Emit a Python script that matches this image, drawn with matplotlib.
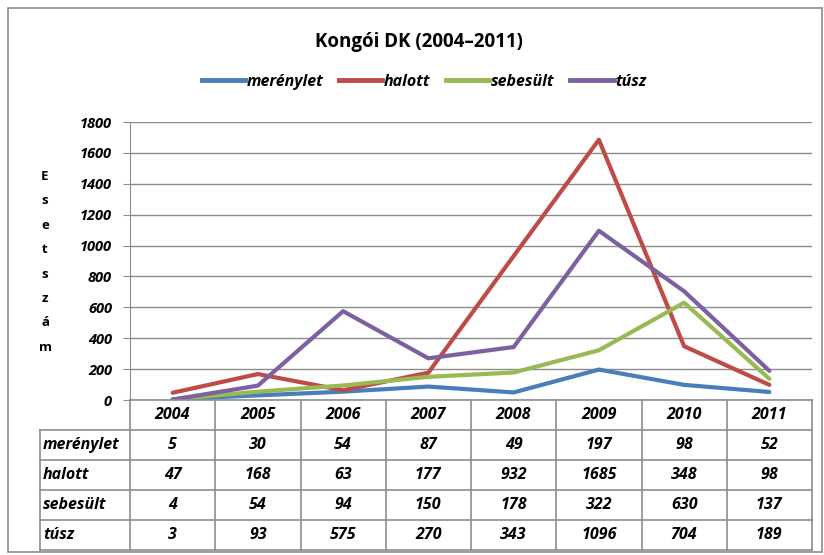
import numpy as np
import matplotlib.pyplot as plt
from matplotlib.lines import Line2D
from matplotlib.patches import Rectangle

years = ['2004', '2005', '2006', '2007', '2008', '2009', '2010', '2011']
merenylet = [5, 30, 54, 87, 49, 197, 98, 52]
halott = [47, 168, 63, 177, 932, 1685, 348, 98]
sebesult = [4, 54, 94, 150, 178, 322, 630, 137]
tusz = [3, 93, 575, 270, 343, 1096, 704, 189]

names = ['merénylet', 'halott', 'sebesült', 'túsz']
series = [merenylet, halott, sebesult, tusz]
colors = ['#4a7ebb', '#be4b48', '#98b954', '#7d60a0']

W, H = 824, 555
fig = plt.figure(figsize=(W / 100, H / 100), dpi=100)
plt.rcParams['font.family'] = ['Open Sans', 'DejaVu Sans']

def fx(px):
    return px / W

def fy(py):
    return 1 - py / H

# outer frame
fig.add_artist(Rectangle((fx(8), fy(552)), fx(814) - fx(0), fy(8) - fy(552),
                         transform=fig.transFigure, fill=False,
                         edgecolor='#8c8c8c', lw=1.2))

# plot area
left, right, top, bottom = 130, 812, 122, 400
ax = fig.add_axes([fx(left), fy(bottom), fx(right - left), fy(top) - fy(bottom)])
x = np.arange(len(years))
for s, c, n in zip(series, colors, names):
    ax.plot(x, s, color=c, lw=3, label=n, solid_capstyle='round')

ax.set_xlim(-0.5, len(years) - 0.5)
ax.set_ylim(0, 1800)
ax.set_yticks(np.arange(0, 1801, 200))
ax.yaxis.grid(True, color='#8c8c8c', lw=1)
ax.set_axisbelow(True)
ax.set_xticks([])
for sp in ['top', 'right', 'bottom']:
    ax.spines[sp].set_visible(False)
ax.spines['left'].set_color('#8c8c8c')
ax.tick_params(axis='y', length=5, color='#8c8c8c', pad=8)
for lab in ax.get_yticklabels():
    lab.set_fontweight('bold')
    lab.set_fontstyle('italic')
    lab.set_fontsize(10.5)

# vertical y label, one letter per line
ylab = 'Esetszám'
for i, ch in enumerate(ylab):
    fig.text(fx(45), fy(176 + i * 24.5), ch, ha='center', va='center',
             fontsize=9.5, fontweight='bold')

# title
fig.text(fx(419), fy(42), 'Kongói DK (2004–2011)', ha='center', va='center',
         fontsize=13.5, fontweight='bold')

# legend
handles = [Line2D([], [], color=c, lw=3.5) for c in colors]
fig.legend(handles, names, loc='center', bbox_to_anchor=(fx(424), fy(82)),
           ncol=4, frameon=False, handlelength=2.7, handletextpad=0.1,
           columnspacing=1.0,
           prop={'weight': 'bold', 'style': 'italic', 'size': 11.5})

# data table below plot
colw = (right - left) / len(years)
row_h = 30
lab_left = 40
tc = '#8c8c8c'

def hline(y, x0, x1):
    fig.add_artist(Line2D([fx(x0), fx(x1)], [fy(y), fy(y)], color=tc, lw=1.2,
                          transform=fig.transFigure))

def vline(xp, y0, y1):
    fig.add_artist(Line2D([fx(xp), fx(xp)], [fy(y0), fy(y1)], color=tc, lw=1.2,
                          transform=fig.transFigure))

ybot = bottom + row_h * 5
hline(bottom, left, right)
for r in range(1, 6):
    hline(bottom + r * row_h, lab_left, right)
vline(lab_left, bottom + row_h, ybot)
for c in range(len(years) + 1):
    vline(left + c * colw, bottom, ybot)

tprops = dict(fontsize=11.5, fontweight='bold', fontstyle='italic', va='center')
for c, yr in enumerate(years):
    fig.text(fx(left + (c + 0.5) * colw), fy(bottom + row_h / 2), yr,
             ha='center', **tprops)
for r, (n, s) in enumerate(zip(names, series)):
    yc = bottom + (r + 1.5) * row_h
    fig.text(fx(lab_left + 3), fy(yc), n, ha='left', **tprops)
    for c, v in enumerate(s):
        fig.text(fx(left + (c + 0.5) * colw), fy(yc), str(v), ha='center', **tprops)

fig.savefig('out.png', dpi=100)
